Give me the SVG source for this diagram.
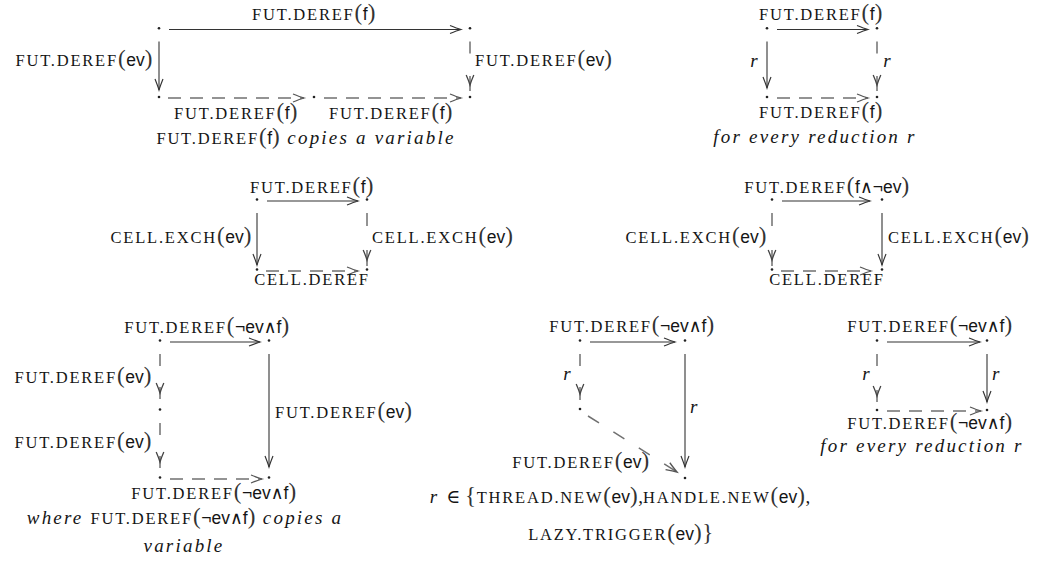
<svg xmlns="http://www.w3.org/2000/svg" width="1042" height="573" viewBox="0 0 1042 573">
<style>
text{fill:#151515}
.sc{font-family:"Liberation Serif","DejaVu Serif",serif;font-size:16.5px;letter-spacing:1.8px;font-style:normal}
.p{font-family:"Liberation Serif","DejaVu Serif",serif;font-size:23px;letter-spacing:0.6px;font-style:normal;fill:#333}
.sf{font-family:"Liberation Sans","DejaVu Sans",sans-serif;font-size:17.5px;letter-spacing:0;font-style:normal}
.it{font-family:"Liberation Serif","DejaVu Serif",serif;font-style:italic;font-size:19px;letter-spacing:2.2px}
.m{font-family:"Liberation Serif","DejaVu Serif",serif;font-style:normal;font-size:19px;letter-spacing:0}
.sol{fill:none;stroke:#333;stroke-width:1.1}
.das{fill:none;stroke:#707070;stroke-width:1.5;stroke-dasharray:13 9}
.dv{fill:none;stroke:#707070;stroke-width:1.5}
.node circle{fill:#222}
</style>
<defs>
<marker id="ah" viewBox="-12 -5 13 10" refX="0" refY="0" markerWidth="13" markerHeight="10" markerUnits="userSpaceOnUse" orient="auto" overflow="visible"><path d="M-11,-4 Q-4,-1.2 0,0 Q-4,1.2 -11,4" fill="none" stroke="#333" stroke-width="1.15"/></marker>
<marker id="ahd" viewBox="-12 -5 13 10" refX="0" refY="0" markerWidth="13" markerHeight="10" markerUnits="userSpaceOnUse" orient="auto" overflow="visible"><path d="M-11,-4 Q-4,-1.2 0,0 Q-4,1.2 -11,4" fill="none" stroke="#555" stroke-width="1.3"/></marker>
<marker id="ay" viewBox="-12 -5 13 10" refX="6" refY="0" markerWidth="13" markerHeight="10" markerUnits="userSpaceOnUse" orient="auto" overflow="visible"><path d="M-10,-3.8 Q-4,-1.2 0,0 Q-4,1.2 -10,3.8" fill="none" stroke="#444" stroke-width="1.3"/></marker>
</defs>

<!-- Nodes -->
<g id="A-n1" class="node"><circle cx="159" cy="28.3" r="1.3"/></g>
<g id="A-n2" class="node"><circle cx="470" cy="28.3" r="1.3"/></g>
<g id="A-n3" class="node"><circle cx="159" cy="97" r="1.3"/></g>
<g id="A-n4" class="node"><circle cx="314" cy="97" r="1.3"/></g>
<g id="A-n5" class="node"><circle cx="470" cy="97" r="1.3"/></g>
<g id="B-n1" class="node"><circle cx="767" cy="28.3" r="1.3"/></g>
<g id="B-n2" class="node"><circle cx="877" cy="28.3" r="1.3"/></g>
<g id="B-n3" class="node"><circle cx="767" cy="97" r="1.3"/></g>
<g id="B-n4" class="node"><circle cx="877" cy="97" r="1.3"/></g>
<g id="C-n1" class="node"><circle cx="257" cy="199.5" r="1.3"/></g>
<g id="C-n2" class="node"><circle cx="367" cy="199.5" r="1.3"/></g>
<g id="C-n3" class="node"><circle cx="257" cy="269.5" r="1.3"/></g>
<g id="C-n4" class="node"><circle cx="367" cy="269.5" r="1.3"/></g>
<g id="D-n1" class="node"><circle cx="772" cy="199.5" r="1.3"/></g>
<g id="D-n2" class="node"><circle cx="882" cy="199.5" r="1.3"/></g>
<g id="D-n3" class="node"><circle cx="772" cy="269.5" r="1.3"/></g>
<g id="D-n4" class="node"><circle cx="882" cy="269.5" r="1.3"/></g>
<g id="E-n1" class="node"><circle cx="160" cy="340.5" r="1.3"/></g>
<g id="E-n2" class="node"><circle cx="269" cy="340.5" r="1.3"/></g>
<g id="E-n3" class="node"><circle cx="160" cy="409.5" r="1.3"/></g>
<g id="E-n4" class="node"><circle cx="160" cy="477.5" r="1.3"/></g>
<g id="E-n5" class="node"><circle cx="269" cy="477.5" r="1.3"/></g>
<g id="F-n1" class="node"><circle cx="580" cy="340.5" r="1.3"/></g>
<g id="F-n2" class="node"><circle cx="685" cy="340.5" r="1.3"/></g>
<g id="F-n3" class="node"><circle cx="580" cy="409" r="1.3"/></g>
<g id="F-n4" class="node"><circle cx="685" cy="478" r="1.3"/></g>
<g id="G-n1" class="node"><circle cx="877" cy="340.5" r="1.3"/></g>
<g id="G-n2" class="node"><circle cx="987" cy="340.5" r="1.3"/></g>
<g id="G-n3" class="node"><circle cx="877" cy="410" r="1.3"/></g>
<g id="G-n4" class="node"><circle cx="987" cy="410" r="1.3"/></g>

<!-- Connectors -->
<g id="connectors">
<path class="sol" d="M169,29.5 H461" marker-end="url(#ah)"/>
<path class="sol" d="M159,41.5 V90" marker-end="url(#ah)"/>
<path class="dv" d="M470,41.5 V53.5 M470,76 V91" marker-end="url(#ay)"/>
<path class="das" d="M168,98 H304" marker-end="url(#ahd)"/>
<path class="das" d="M324,98 H461" marker-end="url(#ahd)"/>

<path class="sol" d="M777,29.5 H868" marker-end="url(#ah)"/>
<path class="sol" d="M767,41.5 V88" marker-end="url(#ah)"/>
<path class="dv" d="M877,41.5 V53.5 M877,76 V91" marker-end="url(#ay)"/>
<path class="das" d="M777,98 H868" marker-end="url(#ahd)"/>

<path class="sol" d="M267,201 H358" marker-end="url(#ah)"/>
<path class="sol" d="M257,213 V265" marker-end="url(#ah)"/>
<path class="dv" d="M367,213 V226 M367,250 V266" marker-end="url(#ay)"/>
<path class="das" d="M266,271 H358" marker-end="url(#ahd)"/>

<path class="sol" d="M782,201 H870" marker-end="url(#ah)"/>
<path class="dv" d="M772,213 V226 M772,250 V266" marker-end="url(#ay)"/>
<path class="sol" d="M882,213 V265" marker-end="url(#ah)"/>
<path class="das" d="M781,271 H871" marker-end="url(#ahd)"/>

<path class="sol" d="M170,342 H260" marker-end="url(#ah)"/>
<path class="dv" d="M160,354 V366 M160,387 V399" marker-end="url(#ay)"/>
<path class="dv" d="M160,423 V435 M160,456 V468" marker-end="url(#ay)"/>
<path class="sol" d="M269,354 V467" marker-end="url(#ah)"/>
<path class="das" d="M170,479 H262" marker-end="url(#ahd)"/>

<path class="sol" d="M590,342 H675" marker-end="url(#ah)"/>
<path class="dv" d="M580,354 V366 M580,387 V400" marker-end="url(#ay)"/>
<path class="sol" d="M685,354 V467" marker-end="url(#ah)"/>
<path class="das" style="stroke-dasharray:13 17" d="M588,416 L677,472" marker-end="url(#ahd)"/>

<path class="sol" d="M887,342 H980" marker-end="url(#ah)"/>
<path class="dv" d="M877,354 V366 M877,390 V402" marker-end="url(#ay)"/>
<path class="sol" d="M987,354 V402" marker-end="url(#ah)"/>
<path class="das" d="M887,411 H981" marker-end="url(#ahd)"/>
</g>

<!-- Labels -->
<g id="labels">
<text class="sc" x="314" y="20" text-anchor="middle">FUT.DEREF<tspan class="p">(</tspan><tspan class="sf">f</tspan><tspan class="p">)</tspan></text>
<text class="sc" x="153" y="66" text-anchor="end">FUT.DEREF<tspan class="p">(</tspan><tspan class="sf">ev</tspan><tspan class="p">)</tspan></text>
<text class="sc" x="475" y="66">FUT.DEREF<tspan class="p">(</tspan><tspan class="sf">ev</tspan><tspan class="p">)</tspan></text>
<text class="sc" x="236" y="119" text-anchor="middle">FUT.DEREF<tspan class="p">(</tspan><tspan class="sf">f</tspan><tspan class="p">)</tspan></text>
<text class="sc" x="391" y="119" text-anchor="middle">FUT.DEREF<tspan class="p">(</tspan><tspan class="sf">f</tspan><tspan class="p">)</tspan></text>
<text class="sc" x="306" y="144" text-anchor="middle">FUT.DEREF<tspan class="p">(</tspan><tspan class="sf">f</tspan><tspan class="p">)</tspan><tspan class="it"> copies a variable</tspan></text>

<text class="sc" x="821" y="20" text-anchor="middle">FUT.DEREF<tspan class="p">(</tspan><tspan class="sf">f</tspan><tspan class="p">)</tspan></text>
<text class="it" x="755" y="67" text-anchor="middle">r</text>
<text class="it" x="888" y="67" text-anchor="middle">r</text>
<text class="sc" x="821" y="118" text-anchor="middle">FUT.DEREF<tspan class="p">(</tspan><tspan class="sf">f</tspan><tspan class="p">)</tspan></text>
<text class="it" x="815" y="143" text-anchor="middle">for every reduction r</text>

<text class="sc" x="312" y="193" text-anchor="middle">FUT.DEREF<tspan class="p">(</tspan><tspan class="sf">f</tspan><tspan class="p">)</tspan></text>
<text class="sc" x="252" y="243" text-anchor="end">CELL.EXCH<tspan class="p">(</tspan><tspan class="sf">ev</tspan><tspan class="p">)</tspan></text>
<text class="sc" x="372" y="243">CELL.EXCH<tspan class="p">(</tspan><tspan class="sf">ev</tspan><tspan class="p">)</tspan></text>
<text class="sc" x="312" y="285" text-anchor="middle">CELL.DEREF</text>

<text class="sc" x="827" y="193" text-anchor="middle">FUT.DEREF<tspan class="p">(</tspan><tspan class="sf">f∧¬ev</tspan><tspan class="p">)</tspan></text>
<text class="sc" x="767" y="243" text-anchor="end">CELL.EXCH<tspan class="p">(</tspan><tspan class="sf">ev</tspan><tspan class="p">)</tspan></text>
<text class="sc" x="888" y="243">CELL.EXCH<tspan class="p">(</tspan><tspan class="sf">ev</tspan><tspan class="p">)</tspan></text>
<text class="sc" x="827" y="285" text-anchor="middle">CELL.DEREF</text>

<text class="sc" x="207" y="333" text-anchor="middle">FUT.DEREF<tspan class="p">(</tspan><tspan class="sf">¬ev∧f</tspan><tspan class="p">)</tspan></text>
<text class="sc" x="152" y="383" text-anchor="end">FUT.DEREF<tspan class="p">(</tspan><tspan class="sf">ev</tspan><tspan class="p">)</tspan></text>
<text class="sc" x="152" y="448" text-anchor="end">FUT.DEREF<tspan class="p">(</tspan><tspan class="sf">ev</tspan><tspan class="p">)</tspan></text>
<text class="sc" x="275" y="418">FUT.DEREF<tspan class="p">(</tspan><tspan class="sf">ev</tspan><tspan class="p">)</tspan></text>
<text class="sc" x="214" y="499" text-anchor="middle">FUT.DEREF<tspan class="p">(</tspan><tspan class="sf">¬ev∧f</tspan><tspan class="p">)</tspan></text>
<text class="it" x="185" y="524" text-anchor="middle">where <tspan class="sc">FUT.DEREF</tspan><tspan class="p">(</tspan><tspan class="sf">¬ev∧f</tspan><tspan class="p">)</tspan> copies a</text>
<text class="it" x="184" y="552" text-anchor="middle">variable</text>

<text class="sc" x="632" y="332" text-anchor="middle">FUT.DEREF<tspan class="p">(</tspan><tspan class="sf">¬ev∧f</tspan><tspan class="p">)</tspan></text>
<text class="it" x="568" y="380" text-anchor="middle">r</text>
<text class="it" x="690" y="413">r</text>
<text class="sc" x="581" y="468" text-anchor="middle">FUT.DEREF<tspan class="p">(</tspan><tspan class="sf">ev</tspan><tspan class="p">)</tspan></text>
<text class="it" x="620" y="503" text-anchor="middle">r <tspan class="m">∈ </tspan><tspan class="p">{</tspan><tspan class="sc">THREAD.NEW</tspan><tspan class="p">(</tspan><tspan class="sf">ev</tspan><tspan class="p">)</tspan><tspan class="m">,</tspan><tspan class="sc">HANDLE.NEW</tspan><tspan class="p">(</tspan><tspan class="sf">ev</tspan><tspan class="p">)</tspan><tspan class="m">,</tspan></text>
<text class="sc" x="621" y="540" text-anchor="middle">LAZY.TRIGGER<tspan class="p">(</tspan><tspan class="sf">ev</tspan><tspan class="p">)}</tspan></text>

<text class="sc" x="930" y="332" text-anchor="middle">FUT.DEREF<tspan class="p">(</tspan><tspan class="sf">¬ev∧f</tspan><tspan class="p">)</tspan></text>
<text class="it" x="867" y="380" text-anchor="middle">r</text>
<text class="it" x="992" y="380">r</text>
<text class="sc" x="930" y="429" text-anchor="middle">FUT.DEREF<tspan class="p">(</tspan><tspan class="sf">¬ev∧f</tspan><tspan class="p">)</tspan></text>
<text class="it" x="922" y="452" text-anchor="middle">for every reduction r</text>
</g>
</svg>
